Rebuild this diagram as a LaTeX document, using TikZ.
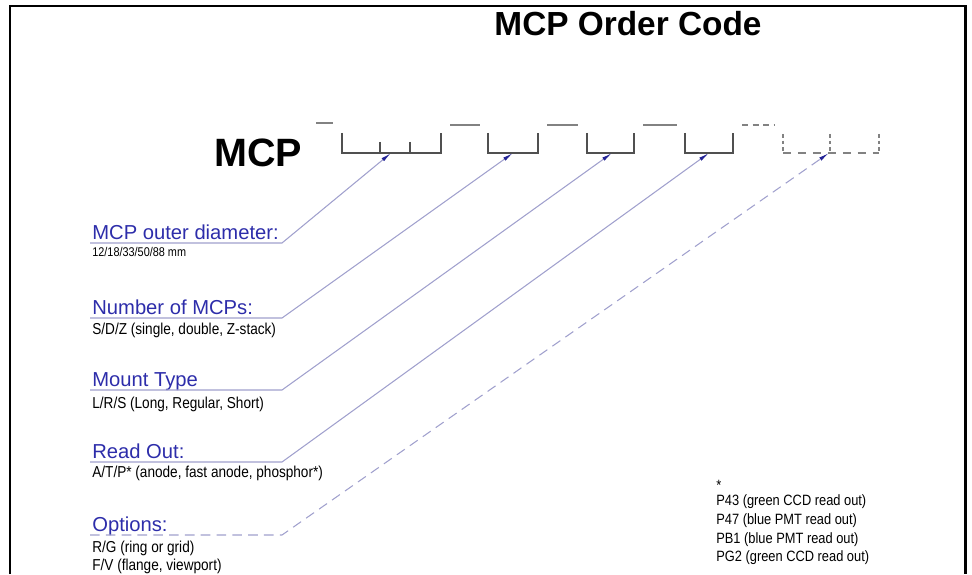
\documentclass[tikz,border=0pt]{standalone}
\usepackage{fontspec}
\setmainfont{Liberation Sans}
\newfontfamily\narrowfont[FakeStretch=0.86]{Liberation Sans}
\usepackage{tikz}
\usetikzlibrary{arrows.meta, positioning}
\definecolor{labelblue}{RGB}{45,45,170}
\definecolor{leadgray}{RGB}{160,160,205}
\definecolor{tipblue}{RGB}{35,35,150}
\definecolor{slotgray}{RGB}{80,80,80}
\definecolor{gapgray}{RGB}{130,130,130}

\begin{document}
\begin{tikzpicture}[x=0.02cm, y=-0.02cm,
    slot/.style={draw=slotgray, line width=0.8pt},
    gap/.style={draw=gapgray, line width=0.8pt},
    lead/.style={draw=leadgray, line width=0.6pt, -{Latex[length=6pt, width=2.2pt, color=tipblue]}},
    lbl/.style={text=labelblue, font=\fontsize{11.5}{13}\selectfont, inner sep=0pt, anchor=base west},
    sub/.style={font=\narrowfont\fontsize{9}{10}\selectfont, inner sep=0pt, anchor=base west}]
    \useasboundingbox (0,0) rectangle (972,574);

    % Frame
    \draw[line width=1.4pt] (10,574) -- (10,6) -- (965.5,6) -- (965.5,574);

    % Title
    \node[font=\bfseries\fontsize{19}{21}\selectfont, inner sep=0pt] (title) at (628,24) {MCP Order Code};

    % Code
    \node[font=\bfseries\fontsize{22.5}{24}\selectfont, inner sep=0pt, anchor=base west] (mcp) at (214,167) {MCP};
    \draw[gap] (316,123) -- (333,123);
    \draw[slot] (342,133) -- (342,153) -- (441,153) -- (441,133);
    \draw[slot] (380,142) -- (380,153);
    \draw[slot] (410,142) -- (410,153);
    \draw[gap] (450,125) -- (480,125);
    \draw[slot] (488,133) -- (488,153) -- (538,153) -- (538,133);
    \draw[gap] (547,125) -- (578,125);
    \draw[slot] (587,133) -- (587,153) -- (634,153) -- (634,133);
    \draw[gap] (643,125) -- (677,125);
    \draw[slot] (685,133) -- (685,153) -- (733,153) -- (733,133);
    \draw[gap, dash pattern=on 3.5pt off 2.5pt] (742,125) -- (774,125);
    \begin{scope}[slot, draw=gapgray]
        \draw[dash pattern=on 2pt off 1.8pt] (783,134) -- (783,153);
        \draw[dash pattern=on 2pt off 1.8pt] (830,134) -- (830,153);
        \draw[dash pattern=on 2pt off 1.8pt] (879,134) -- (879,153);
        \draw[dash pattern=on 4.5pt off 4pt] (783,153) -- (879,153);
    \end{scope}

    % Targets
    \coordinate (t1) at (391,153);
    \coordinate (t2) at (513,153);
    \coordinate (t3) at (612,153);
    \coordinate (t4) at (709,153);
    \coordinate (t5) at (829,153);

    % Diameter
    \node[lbl] (diam) at (92,239) {MCP outer diameter:};
    \node[sub, font=\narrowfont\fontsize{7.2}{8}\selectfont] (diamsub) at (92,256) {12/18/33/50/88 mm};
    \coordinate (d1) at (90,243);
    \coordinate (e1) at (282,243);
    \draw[lead] (d1) -- (e1) -- (t1);

    % Number
    \node[lbl] (num) at (92,314) {Number of MCPs:};
    \node[sub] (numsub) at (92,334) {S/D/Z (single, double, Z-stack)};
    \coordinate (d2) at (90,318);
    \coordinate (e2) at (282,318);
    \draw[lead] (d2) -- (e2) -- (t2);

    % Mount
    \node[lbl] (mount) at (92,386) {Mount Type};
    \node[sub] (mountsub) at (92,408) {L/R/S (Long, Regular, Short)};
    \coordinate (d3) at (90,390);
    \coordinate (e3) at (282,390);
    \draw[lead] (d3) -- (e3) -- (t3);

    % Read out
    \node[lbl] (read) at (92,458) {Read Out:};
    \node[sub] (readsub) at (92,477) {A/T/P* (anode, fast anode, phosphor*)};
    \coordinate (d4) at (90,462);
    \coordinate (e4) at (282,462);
    \draw[lead] (d4) -- (e4) -- (t4);

    % Options
    \node[lbl] (opt) at (92,531) {Options:};
    \node[sub] (optsub) at (92,552) {R/G (ring or grid)};
    \node[sub] (optsubb) at (92,570) {F/V (flange, viewport)};
    \coordinate (d5) at (90,535);
    \coordinate (e5) at (282,535);
    \draw[lead, dash pattern=on 5.5pt off 3.5pt] (d5) -- (e5) -- (t5);

    % Phosphor list
    \node[sub, font=\narrowfont\fontsize{8.5}{10}\selectfont] (star) at (716,490) {*};
    \node[sub, font=\narrowfont\fontsize{8.5}{10}\selectfont] (p43) at (716,505) {P43 (green CCD read out)};
    \node[sub, font=\narrowfont\fontsize{8.5}{10}\selectfont] (p47) at (716,524) {P47 (blue PMT read out)};
    \node[sub, font=\narrowfont\fontsize{8.5}{10}\selectfont] (pb1) at (716,543) {PB1 (blue PMT read out)};
    \node[sub, font=\narrowfont\fontsize{8.5}{10}\selectfont] (pg2) at (716,561) {PG2 (green CCD read out)};
\end{tikzpicture}
\end{document}
